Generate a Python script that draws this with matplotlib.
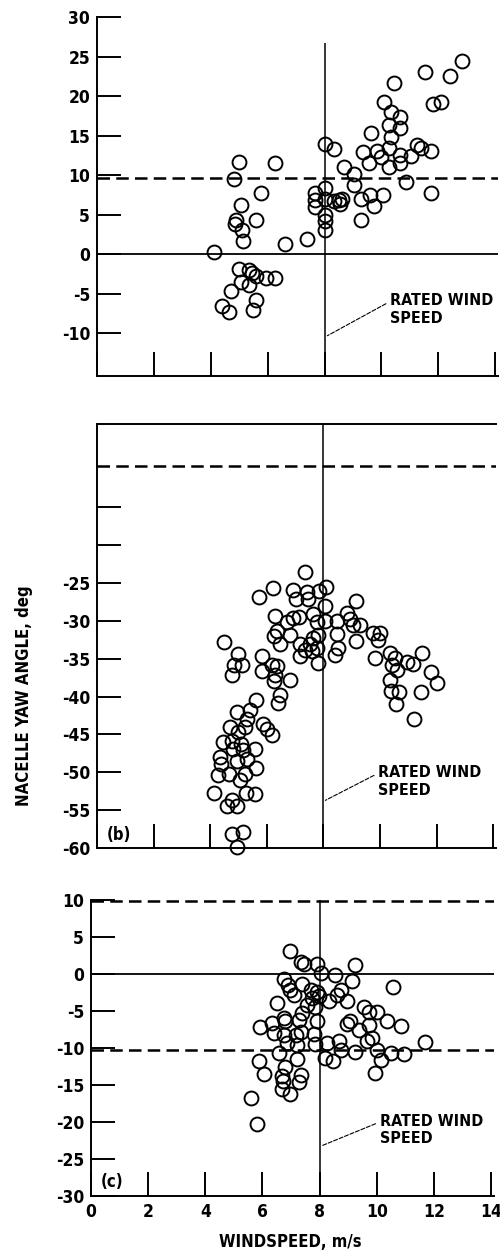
import matplotlib
matplotlib.use('Agg')
import matplotlib.pyplot as plt

plt.rcParams['font.family'] = ['DejaVu Sans']
plt.rcParams['font.stretch'] = 'condensed'
plt.rcParams['font.weight'] = 'bold'
plt.rcParams['axes.unicode_minus'] = False

# panel (a)
a_wind = [4.1, 5.0, 4.8, 5.05, 5.75, 4.9, 4.85, 5.1, 5.15, 5.6, 6.25, 6.6, 7.4,
          5.0, 5.35, 5.6, 5.95, 6.25, 5.05, 5.35, 4.7, 5.6, 4.4, 4.65, 5.5, 5.45,
          8.0, 8.35, 8.7, 9.05, 9.05, 8.0, 7.65, 7.67, 7.65, 8.0,
          8.0, 8.0, 8.0, 8.35, 8.5, 8.6, 8.55, 9.3, 9.6, 9.75,
          10.05, 9.3, 9.65, 9.35, 9.55, 9.85, 10.1, 10.35, 10.65, 10.25,
          10.65, 10.45, 10.35, 10.25, 10.0, 10.25, 10.65, 10.65, 11.05, 11.25,
          11.4, 11.75, 10.85, 11.75, 11.55, 12.4, 12.85, 11.8, 12.1]
a_yaw = [0.3, 11.7, 9.5, 6.2, 7.8, 4.3, 3.8, 3.1, 1.7, 4.3, 11.6, 1.3, 1.9,
         -1.8, -2.0, -2.8, -3.0, -3.0, -3.5, -3.9, -4.7, -5.8, -6.6, -7.3, -7.0, -2.4,
         14.0, 13.3, 11.0, 10.2, 8.7, 8.4, 7.7, 6.9, 6.0, 7.0,
         5.0, 4.2, 3.1, 6.7, 6.9, 7.0, 6.4, 7.0, 7.5, 6.1,
         7.5, 4.35, 15.4, 12.9, 11.6, 13.0, 19.3, 18.0, 17.4, 16.3,
         16.0, 21.7, 14.8, 13.4, 12.3, 11.0, 12.5, 11.5, 12.4, 13.8,
         13.4, 13.0, 9.2, 7.8, 23.0, 22.6, 24.4, 19.0, 19.2]

# panel (b)
b_wind = [7.35, 5.71, 6.21, 6.92, 7.04, 7.41, 7.47, 7.86, 8.09, 8.06, 9.15,
          6.29, 6.71, 6.94, 7.15, 7.65, 7.76, 8.06, 8.47, 8.82, 8.94, 9.06, 9.29,
          9.15, 8.47, 8.53, 8.41, 6.82, 6.24, 6.35, 6.47, 7.18, 7.35, 7.53, 7.65,
          7.82, 7.59, 7.76, 7.18, 7.82, 9.76, 10.0, 9.94, 9.82, 10.35, 10.53,
          10.41, 10.59, 10.96, 11.15, 11.5, 11.79, 12.0, 10.35, 10.38, 10.67,
          10.56, 11.44, 11.21,
          4.49, 5.0, 4.85, 5.12, 4.76, 5.82, 5.82, 6.18, 6.35, 6.29, 6.24, 6.82,
          6.47, 6.41, 5.62, 5.41, 4.96, 5.29, 5.24, 4.71, 5.0, 5.88, 6.0, 6.18,
          4.47, 4.76, 5.08, 4.82, 5.15, 5.59, 4.35, 4.38, 4.94, 5.29, 5.62,
          4.29, 4.68, 5.24, 5.06, 4.14, 5.25, 5.59, 4.59, 4.94, 4.76,
          4.76, 5.15, 4.96]
b_yaw = [-23.6, -26.8, -25.7, -25.9, -27.1, -26.2, -27.1, -26.1, -25.5, -28.0, -27.4,
         -29.4, -30.2, -29.6, -29.5, -29.1, -30.1, -30.0, -30.0, -28.9, -29.8, -30.5, -30.5,
         -32.6, -31.7, -33.6, -34.5, -31.9, -32.0, -31.4, -33.1, -33.1, -33.8, -33.1, -32.2,
         -31.8, -34.0, -33.6, -34.7, -35.6, -31.6, -31.6, -32.5, -34.9, -34.2, -34.9,
         -35.8, -36.5, -35.4, -35.7, -34.2, -36.7, -38.2, -37.8, -39.3, -39.4,
         -41.0, -39.4, -42.9,
         -32.8, -34.4, -35.8, -35.8, -37.1, -34.6, -36.6, -35.8, -36.0, -37.1, -38.0, -37.8,
         -39.8, -40.9, -40.4, -41.8, -42.0, -42.9, -44.0, -44.0, -44.7, -43.6, -44.3, -45.1,
         -46.0, -45.8, -46.2, -46.9, -47.1, -46.9, -48.0, -48.9, -48.5, -48.2, -49.4,
         -50.4, -50.2, -50.2, -51.0, -52.7, -52.7, -52.8, -54.4, -54.4, -53.6,
         -58.2, -57.9, -59.8]

# panel (c)
c_wind = [6.98, 7.33, 7.44, 7.91, 8.03, 8.55, 9.23, 9.14, 10.57, 6.77, 6.89, 6.98,
          7.09, 7.39, 7.68, 7.91, 7.97, 7.73, 7.54, 7.39, 7.27, 7.33, 7.16, 7.85,
          7.91, 7.79, 7.85, 8.26, 8.32, 8.61, 8.73, 8.96, 9.05, 8.96, 9.37, 9.54,
          9.72, 9.99, 9.72, 9.84, 9.66, 10.36, 10.83, 11.7, 9.99, 10.13, 10.48,
          10.95, 9.95, 9.25, 8.73, 8.67, 8.2, 8.47, 6.51, 6.74, 6.79, 6.34, 5.9,
          6.39, 6.74, 6.86, 7.21, 6.57, 5.87, 6.04, 6.8, 7.21, 6.69, 6.72, 7.33,
          7.27, 6.69, 6.98, 5.6, 5.81]
c_yaw = [3.1, 1.7, 1.3, 1.3, 0.2, -0.1, 1.2, -0.9, -1.8, -0.6, -1.5, -2.2,
         -2.8, -1.4, -2.2, -2.4, -3.0, -3.3, -4.2, -5.3, -6.2, -7.8, -8.2, -4.4,
         -6.4, -8.1, -9.5, -9.3, -3.7, -2.8, -2.2, -3.7, -6.4, -6.8, -7.5, -4.4,
         -5.1, -5.1, -6.9, -8.7, -9.1, -6.4, -7.0, -9.2, -10.2, -11.6, -10.7,
         -10.8, -13.4, -10.5, -10.2, -9.1, -11.3, -11.8, -3.9, -5.9, -6.4, -6.6, -7.1,
         -8.0, -8.2, -9.3, -9.6, -10.7, -11.7, -13.5, -12.5, -11.5, -13.8, -14.5, -13.6,
         -14.6, -15.6, -16.2, -16.7, -20.3]

rated = 8.0
x_ticks = [0, 2, 4, 6, 8, 10, 12, 14]
a_ticks = [-10, -5, 0, 5, 10, 15, 20, 25, 30]
b_ticks = [-60, -55, -50, -45, -40, -35, -30, -25, -20, -15]
b_labels = ['-60', '-55', '-50', '-45', '-40', '-35', '-30', '-25', '', '']
c_ticks = [-30, -25, -20, -15, -10, -5, 0, 5, 10]

dash = (0, (5, 2.5))
fig = plt.figure(figsize=(5, 12.56), dpi=100)
axA = fig.add_axes([0.194, 0.7006, 0.802, 0.2858])
axB = fig.add_axes([0.194, 0.3248, 0.798, 0.3376])
axC = fig.add_axes([0.182, 0.0478, 0.806, 0.2373])


def style(ax, ylim, yticks, ylabels, top=False):
    ax.set_xlim(0, 14.1)
    ax.set_ylim(*ylim)
    ax.spines['right'].set_visible(False)
    ax.spines['top'].set_visible(top)
    for s in ax.spines.values():
        s.set_linewidth(1.4)
    ax.set_xticks(x_ticks)
    ax.set_yticks(yticks)
    ax.set_yticklabels(ylabels)
    ax.tick_params(direction='in', length=17, width=1.4, labelsize=12.5, pad=5)


def scatter(ax, x, y):
    ax.plot(x, y, 'o', ms=10, mfc='none', mec='k', mew=1.4, clip_on=False, zorder=3)


def rated_note(ax, xy, xytext):
    ax.annotate('RATED WIND\nSPEED', xy=xy, xytext=xytext, ha='left', va='center',
                fontsize=11.5, linespacing=1.2,
                arrowprops=dict(arrowstyle='-', ls='--', lw=0.8, color='k',
                                relpos=(0, 0.75), shrinkA=1, shrinkB=0))


# (a)
style(axA, (-15.4, 30), a_ticks, [str(t) for t in a_ticks])
axA.spines['left'].set_bounds(-15.4, 30)
axA.tick_params(labelbottom=False)
axA.axhline(0, color='k', lw=1.3)
axA.axhline(9.7, color='k', lw=1.8, ls=dash)
axA.vlines(rated, -15.4, 26.7, color='k', lw=1.1)
scatter(axA, a_wind, a_yaw)
rated_note(axA, (8.1, -10.3), (10.3, -7.0))

# (b)
style(axB, (-60, -4), b_ticks, b_labels, top=True)
axB.tick_params(labelbottom=False)
axB.axhline(-9.6, color='k', lw=1.8, ls=dash)
axB.axvline(rated, color='k', lw=1.1)
scatter(axB, b_wind, b_yaw)
rated_note(axB, (8.07, -53.7), (9.93, -51.2))
axB.text(0.025, 0.03, '(b)', transform=axB.transAxes, fontsize=12, ha='left', va='center')

# (c)
style(axC, (-30, 10.3), c_ticks, [str(t) for t in c_ticks])
axC.spines['left'].set_bounds(-30, 10)
axC.set_xticklabels([str(t) for t in x_ticks])
axC.axhline(0, color='k', lw=1.3)
axC.axhline(9.9, color='k', lw=1.8, ls=dash)
axC.axhline(-10.2, color='k', lw=1.8, ls=dash)
axC.vlines(rated, -30, 10, color='k', lw=1.1)
scatter(axC, c_wind, c_yaw)
rated_note(axC, (8.08, -23.2), (10.1, -21.1))
axC.text(0.025, 0.047, '(c)', transform=axC.transAxes, fontsize=12, ha='left', va='center')

fig.text(0.048, 0.446, 'NACELLE YAW ANGLE, deg', rotation=90, ha='center', va='center', fontsize=12)
fig.text(0.58, 0.011, 'WINDSPEED, m/s', ha='center', va='center', fontsize=12)

fig.savefig('out.png', dpi=100)
